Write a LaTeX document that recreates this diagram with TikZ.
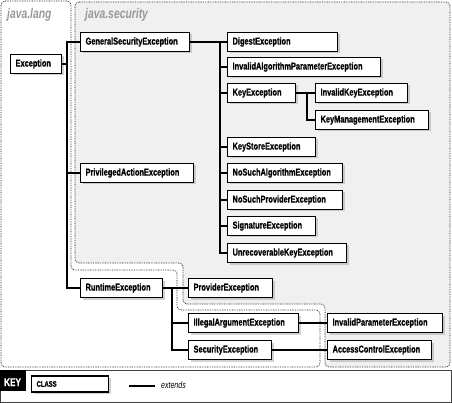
\documentclass[tikz,border=0pt]{standalone}
\usepackage{fontspec}
\setmainfont{Liberation Sans}[FakeStretch=0.74, BoldFeatures={FakeBold=0.8}]
\usetikzlibrary{shadows}

\begin{document}
\begin{tikzpicture}[x=1pt,y=-1pt,
    cls/.style={draw=black, line width=1.2pt, fill=white, anchor=west,
        minimum height=19pt, inner xsep=5pt, inner ysep=0pt, align=left,
        font=\fontsize{10}{12}\selectfont\bfseries,
        drop shadow={shadow xshift=2pt, shadow yshift=-2pt, fill=black!35}},
    pkg/.style={draw=black!85, line width=0.7pt, dash pattern=on 0.8pt off 0.9pt, rounded corners=4pt},
    pkglabel/.style={anchor=base west, inner sep=0pt, text=black!40,
        font=\fontsize{14}{16}\selectfont\bfseries\itshape},
    ext/.style={line width=1.1pt, black}]
\useasboundingbox (0,0) rectangle (452,403);

% package regions
\draw[pkg, fill=black!6] (75,2) -- (450,2) -- (450,367) -- (325,367) -- (325,304)
    -- (183,304) -- (183,263) -- (75,263) -- cycle;
\draw[pkg] (1,1) -- (71,1) -- (71,270) -- (177,270) -- (177,310) -- (320,310)
    -- (320,367) -- (1,367) -- cycle;
\node[pkglabel] (lang) at (7,19) {java.lang};
\node[pkglabel] (sec) at (85,19) {java.security};

% java.lang
\node[cls, text width=41pt] (exc) at (10,64) {Exception};
\node[cls, text width=72pt] (rte) at (80,288) {RuntimeException};
\node[cls, text width=100pt] (iae) at (188,323) {IllegalArgumentException};
\node[cls, text width=73pt] (sce) at (188,350) {SecurityException};

% java.security
\node[cls, text width=99pt] (gse) at (80,42) {GeneralSecurityException};
\node[cls, text width=103pt] (pae) at (80,173) {PrivilegedActionException};
\node[cls, text width=100pt] (dig) at (227,42) {DigestException};
\node[cls, text width=143pt] (iap) at (227,67) {InvalidAlgorithmParameterException};
\node[cls, text width=58pt] (kex) at (227,93) {KeyException};
\node[cls, text width=82pt] (ike) at (315,93) {InvalidKeyException};
\node[cls, text width=103pt] (kme) at (315,120) {KeyManagementException};
\node[cls, text width=78pt] (kst) at (227,147) {KeyStoreException};
\node[cls, text width=105pt] (nsa) at (227,173) {NoSuchAlgorithmException};
\node[cls, text width=105pt] (nsp) at (227,200) {NoSuchProviderException};
\node[cls, text width=78pt] (sig) at (227,226) {SignatureException};
\node[cls, text width=109pt] (urk) at (227,253) {UnrecoverableKeyException};
\node[cls, text width=74pt] (pre) at (188,288) {ProviderException};
\node[cls, text width=105pt] (ipe) at (327,323) {InvalidParameterException};
\node[cls, text width=94pt] (ace) at (327,350) {AccessControlException};

% extends lines
\coordinate (eb) at (67,64);
\draw[ext] (exc.east) -- (eb);
\foreach \n in {gse,pae,rte} \draw[ext] (eb) |- (\n.west);

\coordinate (gb) at (220,42);
\draw[ext] (gse.east) -- (dig.west);
\foreach \n in {iap,kex,kst,nsa,nsp,sig,urk} \draw[ext] (gb) |- (\n.west);

\coordinate (kb) at (307,93);
\draw[ext] (kex.east) -- (ike.west);
\draw[ext] (kb) |- (kme.west);

\coordinate (rb) at (172,288);
\draw[ext] (rte.east) -- (pre.west);
\draw[ext] (rb) |- (iae.west);
\draw[ext] (rb) |- (sce.west);

\draw[ext] (iae.east) -- (ipe.west);
\draw[ext] (sce.east) -- (ace.west);

% key
\draw[line width=1pt, black!75] (0.5,370.5) rectangle (451.5,402.5);
\fill[black] (0,370) rectangle (26,391);
\node[anchor=base west, inner sep=0pt, text=white, font=\fontsize{11}{13}\selectfont\bfseries] (keyl) at (4,386) {KEY};
\node[cls, text width=67pt, minimum height=16pt, font=\fontsize{8}{9}\selectfont\bfseries] (klass) at (31,384) {CLASS};
\coordinate (ka) at (129,386);
\coordinate (kz) at (155,386);
\draw[ext] (ka) -- (kz);
\node[anchor=base west, inner sep=0pt, font=\fontsize{9.5}{11}\selectfont\itshape] (kext) at (161,388) {extends};
\end{tikzpicture}
\end{document}
